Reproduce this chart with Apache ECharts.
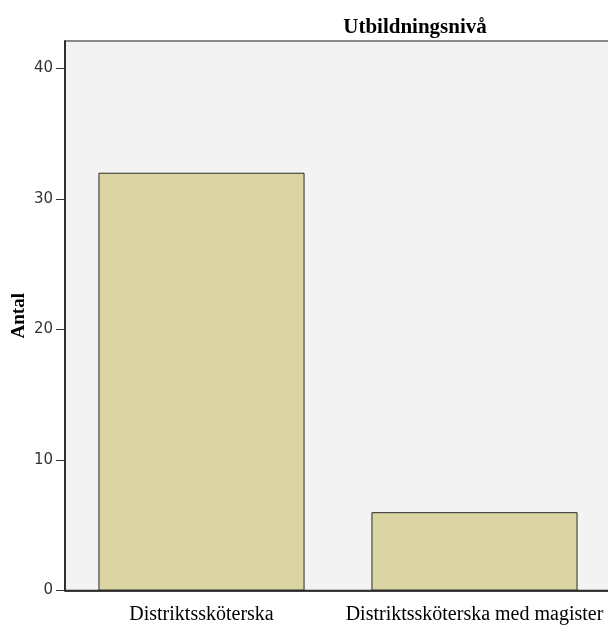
<!DOCTYPE html>
<html><head><meta charset="utf-8">
<script src="https://cdn.jsdelivr.net/npm/echarts@6/dist/echarts.min.js"></script>
<style>html,body{margin:0;padding:0;background:#fff}#c{width:608px;height:625px}</style>
</head><body><div id="c"></div>
<script>
const categories = ['Distriktssköterska', 'Distriktssköterska med magister'];
const counts = [32, 6];
const yTicks = [0, 10, 20, 30, 40];

const chart = echarts.init(document.getElementById('c'), null, {renderer: 'canvas'});
chart.setOption({
  animation: false,
  backgroundColor: '#ffffff',
  title: {
    text: 'Utbildningsnivå', left: 410, top: 12, textAlign: 'center',
    textStyle: {fontFamily: 'Liberation Serif', fontWeight: 'bold', fontSize: 21, color: '#000'}
  },
  grid: {left: 65, right: -3, top: 41, bottom: 34.5, outerBoundsMode: 'none', containLabel: false,
    show: true, backgroundColor: '#f3f3f3', borderColor: '#8a8a8a', borderWidth: 2},
  xAxis: {
    type: 'category', data: categories,
    axisLine: {lineStyle: {color: '#111', width: 1.5}},
    axisTick: {alignWithLabel: true, length: 12, lineStyle: {color: '#111', width: 1}},
    axisLabel: {fontFamily: 'Liberation Serif', fontSize: 20, color: '#000', margin: 14, interval: 0}
  },
  yAxis: {
    type: 'value', min: 0, max: 42.09,
    name: 'Antal', nameLocation: 'middle', nameGap: 36, nameRotate: 90, nameMoveOverlap: false,
    nameTextStyle: {fontFamily: 'Liberation Serif', fontWeight: 'bold', fontSize: 19, color: '#000'},
    axisLine: {show: true, lineStyle: {color: '#111', width: 1.5}},
    axisTick: {show: true, length: 9, customValues: yTicks, lineStyle: {color: '#333', width: 1}},
    splitLine: {show: false},
    axisLabel: {fontFamily: 'DejaVu Sans', fontSize: 15, color: '#333', margin: 12, customValues: yTicks}
  },
  series: [{
    type: 'bar', data: counts, barWidth: '75.5%',
    itemStyle: {color: '#dbd5a3', borderColor: '#2a2a2a', borderWidth: 1}
  }]
});
</script></body></html>
